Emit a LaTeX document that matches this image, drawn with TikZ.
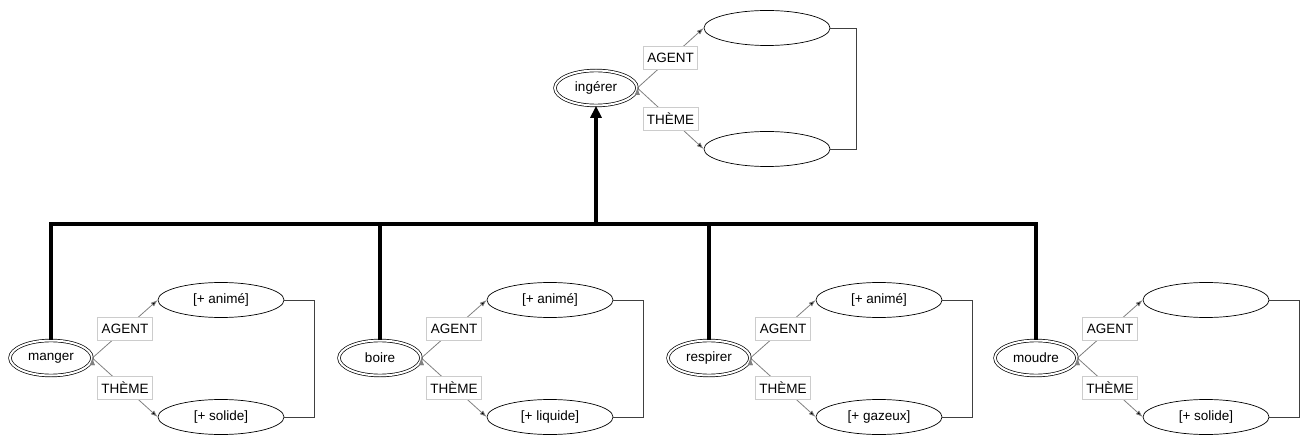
\documentclass[tikz,border=0pt]{standalone}
\usepackage{fontspec}
\setmainfont{Liberation Sans}
\usetikzlibrary{shapes.geometric,arrows.meta}

\begin{document}
\begin{tikzpicture}[x=1pt,y=-1pt]
\tikzstyle{every node}=[font=\fontsize{13.5}{16}\selectfont]
\tikzstyle{verb}=[shape=ellipse,draw=black,double,double distance=2pt,line width=0.7pt,minimum width=82pt,minimum height=35pt,inner sep=0pt]
\tikzstyle{slot}=[shape=ellipse,draw=black,line width=0.7pt,minimum width=126pt,minimum height=35pt,inner sep=0pt]
\tikzstyle{role}=[draw=gray,line width=0.8pt,-{Latex[length=7pt,width=5pt]}]
\tikzstyle{lab}=[draw=gray!40,fill=white,text=black,line width=0.7pt,inner xsep=4pt,minimum height=23pt]
\tikzstyle{bracket}=[draw=black!75,line width=0.8pt]
\tikzstyle{isa}=[draw=black,line width=3.8pt]

\useasboundingbox (0,0) rectangle (1305,435);

\node[verb] (ingerer) at (596,88) {ingérer};
\node[slot] (ingererA) at (767,28) {};
\node[slot] (ingererT) at (767,149) {};

\node[verb] (manger) at (51,358) {manger};
\node[slot] (mangerA) at (221,300) {[+ animé]};
\node[slot] (mangerT) at (221,417) {[+ solide]};

\node[verb] (boire) at (380,358) {boire};
\node[slot] (boireA) at (550,300) {[+ animé]};
\node[slot] (boireT) at (550,417) {[+ liquide]};

\node[verb] (respirer) at (709,358) {respirer};
\node[slot] (respirerA) at (879,300) {[+ animé]};
\node[slot] (respirerT) at (879,417) {[+ gazeux]};

\node[verb] (moudre) at (1036,358) {moudre};
\node[slot] (moudreA) at (1206,300) {};
\node[slot] (moudreT) at (1206,417) {[+ solide]};

% roles
\path[role] (ingerer.east) edge node[lab] {AGENT} (ingererA.west);
\path[role] (ingerer.east) edge node[lab] {THÈME} (ingererT.west);
\path[role] (manger.east) edge node[lab] {AGENT} (mangerA.west);
\path[role] (manger.east) edge node[lab] {THÈME} (mangerT.west);
\path[role] (boire.east) edge node[lab] {AGENT} (boireA.west);
\path[role] (boire.east) edge node[lab] {THÈME} (boireT.west);
\path[role] (respirer.east) edge node[lab] {AGENT} (respirerA.west);
\path[role] (respirer.east) edge node[lab] {THÈME} (respirerT.west);
\path[role] (moudre.east) edge node[lab] {AGENT} (moudreA.west);
\path[role] (moudre.east) edge node[lab] {THÈME} (moudreT.west);

% brackets
\draw[bracket] (ingererA.east) -- ++(26,0) |- (ingererT.east);
\draw[bracket] (mangerA.east) -- ++(30,0) |- (mangerT.east);
\draw[bracket] (boireA.east) -- ++(30,0) |- (boireT.east);
\draw[bracket] (respirerA.east) -- ++(30,0) |- (respirerT.east);
\draw[bracket] (moudreA.east) -- ++(30,0) |- (moudreT.east);

% hierarchy
\coordinate (hub) at (596,224);
\draw[isa] (manger.north) -- (manger |- hub) -- (moudre |- hub) -- (moudre.north);
\draw[isa] (boire.north) -- (boire |- hub);
\draw[isa] (respirer.north) -- (respirer |- hub);
\draw[isa,-{Triangle[length=12pt,width=11pt]}] (hub) -- (ingerer.south);

\end{tikzpicture}
\end{document}
